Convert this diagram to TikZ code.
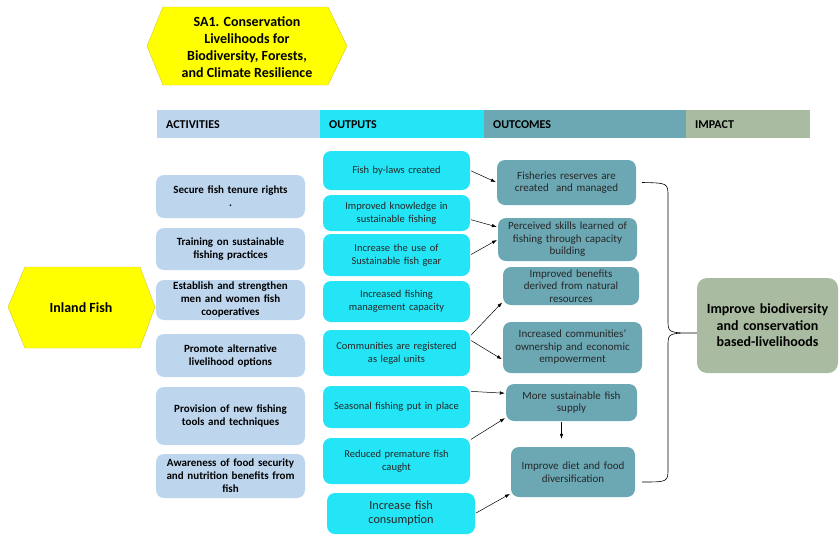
\documentclass[tikz,border=0pt]{standalone}
\usepackage{fontspec}
\setmainfont{Carlito}
\usepackage{tikz}
\usetikzlibrary{positioning,arrows.meta,calc}
\definecolor{actblue}{RGB}{189,214,238}
\definecolor{outcyan}{RGB}{36,229,245}
\definecolor{outteal}{RGB}{108,168,180}
\definecolor{impgreen}{RGB}{169,187,160}
\definecolor{hexyel}{RGB}{255,255,0}
\tikzset{
  act/.style={fill=actblue,rounded corners=8pt,align=center,text width=141pt,inner xsep=4pt,inner ysep=0pt,font=\fontsize{11}{13}\selectfont\bfseries},
  outp/.style={fill=outcyan,rounded corners=8pt,align=center,text width=139pt,inner xsep=4pt,inner ysep=0pt,text=black!85,font=\fontsize{10.5}{13}\selectfont},
  outc/.style={fill=outteal,rounded corners=8pt,align=center,text width=131pt,inner xsep=4pt,inner ysep=0pt,text=black!85,font=\fontsize{11}{12.5}\selectfont},
  imp/.style={fill=impgreen,rounded corners=10pt,align=center,text width=131pt,inner xsep=5pt,inner ysep=0pt,font=\fontsize{14}{16.5}\selectfont\bfseries},
  hdr/.style={anchor=north west,inner xsep=9pt,minimum height=28pt,align=left,font=\fontsize{12}{13}\selectfont\bfseries},
  hexa/.style={fill=hexyel,draw=yellow!80!black,line width=0.4pt},
  arr/.style={->,line width=0.5pt,shorten <=1pt,shorten >=1pt},
}

\begin{document}
\begin{tikzpicture}[x=1pt,y=-1pt,>={Latex[length=5pt,width=3.5pt]}]
  \useasboundingbox (0,0) rectangle (839,536);
  % yellow hexagons
  \path[hexa] (147,46) -- (163,7) -- (328,7) -- (347,46) -- (328,85) -- (163,85) -- cycle;
  \node[align=center,font=\fontsize{14}{17}\selectfont\bfseries] (sa) at (247,47)
    {SA1. Conservation\\Livelihoods for\\Biodiversity, Forests,\\and Climate Resilience};
  \path[hexa] (8,307) -- (25,267) -- (140,267) -- (155,307) -- (140,348) -- (25,348) -- cycle;
  \node[font=\fontsize{14}{16}\selectfont\bfseries] (fish) at (81,308) {Inland Fish};

  % header bar
  \node[hdr,fill=actblue,text width=145pt] (hdact) at (157,110) {ACTIVITIES};
  \node[hdr,fill=outcyan,text width=146pt] (hdout) at (320,110) {OUTPUTS};
  \node[hdr,fill=outteal,text width=184pt] (hdoutc) at (484,110) {OUTCOMES};
  \node[hdr,fill=impgreen,text width=106pt] (hdimp) at (686,110) {IMPACT};

  % activities
  \node[act,minimum height=43pt] (a1) at (230.5,196.5) {Secure fish tenure rights\\.};
  \node[act,minimum height=42pt] (a2) at (230.5,249) {Training on sustainable\\fishing practices};
  \node[act,minimum height=40pt] (a3) at (230.5,300) {Establish and strengthen\\men and women fish\\cooperatives};
  \node[act,minimum height=43pt] (a4) at (230.5,355.5) {Promote alternative\\livelihood options};
  \node[act,minimum height=58pt] (a5) at (230.5,416) {Provision of new fishing\\tools and techniques};
  \node[act,minimum height=44pt] (a6) at (230.5,476) {Awareness of food security\\and nutrition benefits from\\fish};

  % outputs
  \node[outp,minimum height=39pt] (o1) at (396.5,170.5) {Fish by-laws created};
  \node[outp,minimum height=36pt] (o2) at (396.5,213) {Improved knowledge in\\sustainable fishing};
  \node[outp,minimum height=42pt] (o3) at (396.5,255) {Increase the use of\\Sustainable fish gear};
  \node[outp,minimum height=41pt] (o4) at (396.5,301.5) {Increased fishing\\management capacity};
  \node[outp,minimum height=46pt] (o5) at (396.5,353) {Communities are registered\\as legal units};
  \node[outp,minimum height=42pt] (o6) at (396.5,407) {Seasonal fishing put in place};
  \node[outp,minimum height=46pt] (o7) at (396.5,461) {Reduced premature fish\\caught};
  \node[outp,minimum height=41pt,text width=140pt,font=\fontsize{12.25}{14}\selectfont] (o8) at (401,513.5) {Increase fish\\consumption};

  % outcomes
  \node[outc,minimum height=45pt] (c1) at (566.5,182.5) {Fisheries reserves are\\created~ and managed};
  \node[outc,minimum height=43pt] (c2) at (567.5,239.5) {Perceived skills learned of\\fishing through capacity\\building};
  \node[outc,minimum height=38pt,text width=128pt] (c3) at (571,286) {Improved benefits\\derived from natural\\resources};
  \node[outc,minimum height=51pt] (c4) at (572.5,347.5) {Increased communities'\\ownership and economic\\empowerment};
  \node[outc,minimum height=37pt,text width=123pt] (c5) at (571.5,402.5) {More sustainable fish\\supply};
  \node[outc,minimum height=50pt,text width=116pt] (c6) at (573,472) {Improve diet and food\\diversification};

  % impact
  \node[imp,minimum height=95pt] (impact) at (767.5,325.5) {Improve biodiversity\\and conservation\\based-livelihoods};

  % arrows outputs -> outcomes
  \draw[arr] (o1.east) -- (c1.west);
  \draw[arr] (o2.-5) -- (c2.170);
  \draw[arr] (o3.east) -- (c2.west);
  \draw[arr] (o5.13) -- (c3.193);
  \draw[arr] (o5.10) -- (c4.190);
  \draw[arr] (o6.12) -- (c5.172);
  \draw[arr] (o7.16) -- (c5.193);
  \draw[arr] (o8.east) -- (c6.199);
  \draw[arr,shorten >=8pt] ([xshift=-10pt]c5.south) -- ([xshift=-10pt]c5.south |- c6.north);

  % brace to impact
  \coordinate (brtop) at ([xshift=6pt]c1.east);
  \coordinate (brbot) at (642,482);
  \coordinate (brtip) at (impact.west |- 0,333);
  \draw[line width=0.6pt] (brtop) .. controls (668,183) .. (668,197) -- (668,320)
    .. controls (668,333) .. (brtip)
    .. controls (668,333) .. (668,346) -- (668,468)
    .. controls (668,482) .. (brbot);
\end{tikzpicture}
\end{document}
